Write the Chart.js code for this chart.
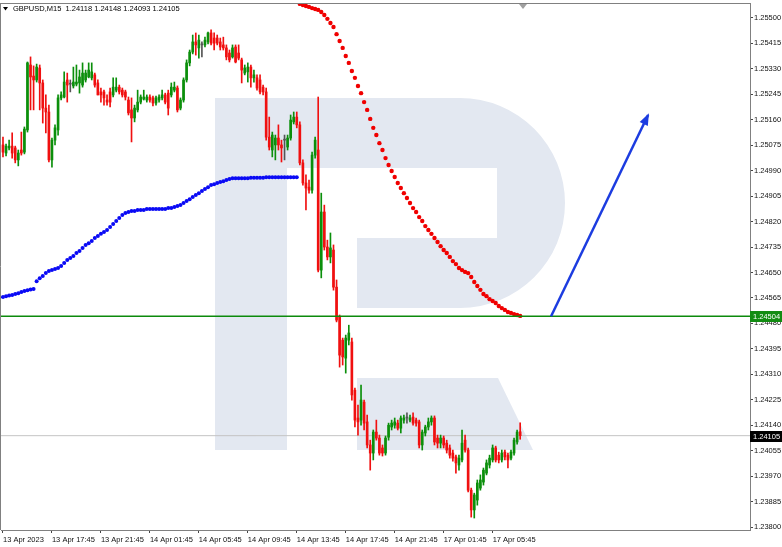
<!DOCTYPE html>
<html>
<head>
<meta charset="utf-8">
<script src="https://cdn.jsdelivr.net/npm/chart.js@4.4.0/dist/chart.umd.min.js"></script>
<style>
  html, body { margin: 0; padding: 0; background: #fff; }
  #wrap { position: relative; width: 782px; height: 547px; }
</style>
</head>
<body>
<div id="wrap"><canvas id="chart" width="782" height="547"></canvas></div>
<script>
// GBPUSD M15 bars, one row per bar: open, high, low, close
const ohlc = [
  [1.25076,1.25102,1.25036,1.25052],[1.25049,1.25079,1.25039,1.25072],[1.25066,1.25092,1.25059,1.25072],[1.25072,1.25116,1.25032,1.25049],[1.25066,1.25072,1.25016,1.25026],
  [1.25026,1.25059,1.25006,1.25049],[1.25059,1.25119,1.25042,1.25049],[1.25052,1.25136,1.25046,1.25129],[1.25126,1.25353,1.25119,1.25350],[1.25343,1.25370,1.25193,1.25303],
  [1.25306,1.25340,1.25193,1.25293],[1.25293,1.25346,1.25286,1.25336],[1.25333,1.25343,1.25193,1.25283],[1.25283,1.25293,1.25149,1.25199],[1.25199,1.25243,1.25116,1.25186],
  [1.25186,1.25209,1.25019,1.25026],[1.25026,1.25099,1.25002,1.25092],[1.25092,1.25143,1.25076,1.25133],[1.25126,1.25243,1.25109,1.25233],[1.25233,1.25253,1.25226,1.25243],
  [1.25236,1.25320,1.25233,1.25286],[1.25293,1.25316,1.25219,1.25276],[1.25279,1.25293,1.25253,1.25279],[1.25273,1.25336,1.25266,1.25286],[1.25279,1.25343,1.25273,1.25286],
  [1.25283,1.25326,1.25249,1.25303],[1.25276,1.25350,1.25269,1.25316],[1.25293,1.25326,1.25286,1.25316],[1.25303,1.25350,1.25300,1.25326],[1.25300,1.25350,1.25293,1.25320],
  [1.25310,1.25316,1.25269,1.25276],[1.25283,1.25293,1.25243,1.25243],[1.25253,1.25266,1.25219,1.25243],[1.25253,1.25259,1.25209,1.25233],[1.25226,1.25243,1.25209,1.25219],
  [1.25253,1.25266,1.25203,1.25219],[1.25243,1.25300,1.25236,1.25269],[1.25259,1.25300,1.25253,1.25269],[1.25269,1.25276,1.25246,1.25253],[1.25259,1.25266,1.25236,1.25243],
  [1.25253,1.25259,1.25226,1.25236],[1.25226,1.25236,1.25176,1.25183],[1.25193,1.25233,1.25086,1.25166],[1.25166,1.25209,1.25153,1.25199],[1.25193,1.25259,1.25186,1.25219],
  [1.25219,1.25243,1.25213,1.25236],[1.25229,1.25259,1.25226,1.25236],[1.25226,1.25243,1.25219,1.25236],[1.25236,1.25243,1.25219,1.25226],[1.25233,1.25239,1.25206,1.25216],
  [1.25216,1.25239,1.25209,1.25233],[1.25226,1.25243,1.25219,1.25236],[1.25233,1.25259,1.25226,1.25243],[1.25243,1.25249,1.25213,1.25219],[1.25249,1.25259,1.25176,1.25199],
  [1.25243,1.25283,1.25236,1.25269],[1.25259,1.25286,1.25253,1.25269],[1.25266,1.25273,1.25186,1.25193],[1.25199,1.25233,1.25193,1.25226],[1.25226,1.25300,1.25219,1.25293],
  [1.25293,1.25360,1.25286,1.25350],[1.25350,1.25393,1.25340,1.25386],[1.25386,1.25443,1.25380,1.25420],[1.25420,1.25450,1.25376,1.25410],[1.25400,1.25443,1.25366,1.25426],
  [1.25410,1.25420,1.25370,1.25410],[1.25410,1.25436,1.25403,1.25426],[1.25420,1.25453,1.25413,1.25450],[1.25450,1.25460,1.25410,1.25416],[1.25433,1.25450,1.25393,1.25416],
  [1.25433,1.25443,1.25410,1.25416],[1.25420,1.25433,1.25393,1.25403],[1.25410,1.25436,1.25393,1.25400],[1.25400,1.25410,1.25360,1.25370],[1.25383,1.25393,1.25353,1.25360],
  [1.25370,1.25410,1.25366,1.25400],[1.25403,1.25410,1.25350,1.25353],[1.25383,1.25410,1.25360,1.25366],[1.25360,1.25366,1.25283,1.25326],[1.25316,1.25343,1.25310,1.25333],
  [1.25320,1.25350,1.25286,1.25336],[1.25336,1.25343,1.25269,1.25300],[1.25300,1.25326,1.25286,1.25310],[1.25300,1.25310,1.25259,1.25266],[1.25293,1.25310,1.25246,1.25253],
  [1.25269,1.25276,1.25243,1.25253],[1.25253,1.25266,1.25092,1.25102],[1.25102,1.25169,1.25059,1.25069],[1.25059,1.25119,1.25036,1.25109],[1.25076,1.25109,1.25026,1.25099],
  [1.25099,1.25143,1.25059,1.25076],[1.25076,1.25092,1.25019,1.25066],[1.25092,1.25109,1.25026,1.25092],[1.25069,1.25109,1.25059,1.25099],[1.25099,1.25176,1.25092,1.25159],
  [1.25153,1.25186,1.25146,1.25169],[1.25169,1.25186,1.25133,1.25143],[1.25143,1.25153,1.25009,1.25016],[1.25016,1.25026,1.24942,1.24949],[1.24949,1.24976,1.24859,1.24932],
  [1.24935,1.24959,1.24915,1.24925],[1.24925,1.25052,1.24915,1.25042],[1.25042,1.25102,1.25032,1.25092],[1.25059,1.25236,1.24652,1.24658],[1.24658,1.24915,1.24632,1.24852],
  [1.24852,1.24875,1.24725,1.24735],[1.24735,1.24758,1.24692,1.24702],[1.24702,1.24782,1.24682,1.24732],[1.24725,1.24742,1.24591,1.24601],[1.24601,1.24625,1.24485,1.24491],
  [1.24501,1.24508,1.24334,1.24374],[1.24424,1.24431,1.24341,1.24368],[1.24364,1.24441,1.24314,1.24431],[1.24424,1.24474,1.24408,1.24448],[1.24418,1.24431,1.24224,1.24241],
  [1.24257,1.24264,1.24134,1.24157],[1.24164,1.24207,1.24107,1.24151],[1.24157,1.24274,1.24140,1.24224],[1.24217,1.24224,1.24124,1.24147],[1.24151,1.24174,1.24064,1.24074],
  [1.24074,1.24090,1.23990,1.24047],[1.24047,1.24124,1.24024,1.24117],[1.24117,1.24157,1.24090,1.24097],[1.24097,1.24107,1.24040,1.24047],[1.24064,1.24074,1.24037,1.24047],
  [1.24047,1.24104,1.24040,1.24097],[1.24100,1.24147,1.24090,1.24140],[1.24134,1.24157,1.24124,1.24147],[1.24140,1.24164,1.24130,1.24151],[1.24147,1.24157,1.24124,1.24130],
  [1.24130,1.24171,1.24114,1.24164],[1.24157,1.24174,1.24147,1.24164],[1.24164,1.24181,1.24147,1.24164],[1.24157,1.24174,1.24151,1.24164],[1.24167,1.24181,1.24140,1.24147],
  [1.24157,1.24164,1.24137,1.24147],[1.24151,1.24157,1.24064,1.24074],[1.24074,1.24124,1.24057,1.24117],[1.24114,1.24140,1.24104,1.24134],[1.24134,1.24164,1.24124,1.24151],
  [1.24151,1.24171,1.24140,1.24164],[1.24164,1.24171,1.24074,1.24084],[1.24097,1.24107,1.24064,1.24080],[1.24080,1.24107,1.24064,1.24097],[1.24097,1.24104,1.24064,1.24074],
  [1.24080,1.24090,1.24047,1.24057],[1.24064,1.24074,1.24030,1.24040],[1.24047,1.24057,1.24020,1.24030],[1.24034,1.24040,1.23980,1.24014],[1.24007,1.24040,1.23990,1.24030],
  [1.24024,1.24124,1.24017,1.24080],[1.24090,1.24107,1.24050,1.24057],[1.24057,1.24064,1.23917,1.23923],[1.23923,1.23930,1.23833,1.23857],[1.23857,1.23913,1.23830,1.23907],
  [1.23890,1.23957,1.23873,1.23947],[1.23930,1.23974,1.23923,1.23957],[1.23950,1.23997,1.23940,1.23990],[1.23980,1.24024,1.23974,1.24014],[1.24007,1.24040,1.23997,1.24030],
  [1.24024,1.24074,1.24017,1.24064],[1.24064,1.24070,1.24017,1.24024],[1.24040,1.24050,1.24014,1.24024],[1.24024,1.24057,1.24017,1.24047],[1.24050,1.24057,1.24024,1.24034],
  [1.24040,1.24047,1.23997,1.24024],[1.24030,1.24057,1.24024,1.24050],[1.24047,1.24097,1.24040,1.24090],[1.24084,1.24124,1.24077,1.24117],[1.24118,1.24148,1.24093,1.24105]
];

// blue dotted moving average, from bar 0
const blueMA = [
  1.24568,1.24571,1.24573,1.24575,1.24578,1.24581,1.24585,1.24588,1.24591,1.24593,
  1.24595,1.24621,1.24631,1.24638,1.24648,1.24655,1.24658,1.24662,1.24665,1.24672,
  1.24682,1.24692,1.24698,1.24705,1.24715,1.24722,1.24732,1.24742,1.24748,1.24755,
  1.24765,1.24772,1.24779,1.24785,1.24792,1.24802,1.24812,1.24822,1.24832,1.24842,
  1.24849,1.24852,1.24855,1.24855,1.24859,1.24859,1.24859,1.24862,1.24862,1.24862,
  1.24862,1.24862,1.24862,1.24862,1.24865,1.24865,1.24869,1.24872,1.24875,1.24882,
  1.24889,1.24895,1.24902,1.24909,1.24915,1.24922,1.24929,1.24935,1.24942,1.24945,
  1.24949,1.24952,1.24955,1.24959,1.24962,1.24965,1.24965,1.24965,1.24965,1.24965,
  1.24965,1.24966,1.24966,1.24966,1.24966,1.24966,1.24968,1.24968,1.24968,1.24968,
  1.24968,1.24968,1.24968,1.24968,1.24968,1.24968,1.24968
];

// red dotted moving average, starts at bar 97
const redMAStart = 97;
const redMA = [
  1.25547,1.25543,1.25540,1.25537,1.25533,1.25530,1.25527,1.25520,1.25510,1.25497,
  1.25483,1.25470,1.25446,1.25423,1.25400,1.25373,1.25350,1.25323,1.25300,1.25273,
  1.25249,1.25219,1.25193,1.25163,1.25133,1.25109,1.25082,1.25059,1.25032,1.25009,
  1.24989,1.24969,1.24949,1.24932,1.24915,1.24899,1.24882,1.24865,1.24852,1.24835,
  1.24822,1.24805,1.24792,1.24779,1.24765,1.24752,1.24738,1.24725,1.24715,1.24702,
  1.24688,1.24678,1.24665,1.24658,1.24652,1.24648,1.24635,1.24618,1.24605,1.24592,
  1.24578,1.24571,1.24561,1.24555,1.24548,1.24538,1.24531,1.24525,1.24518,1.24515,
  1.24511,1.24508,1.24505
];

const levelPrice = 1.24504;   // green horizontal level
const bidPrice = 1.24105;     // last close
const arrowFrom = [179.1, 1.24504];
const arrowTo = [210.8, 1.25176];

const xTickBars = [0, 16, 32, 48, 64, 80, 96, 112, 128, 144, 160];
const xTickLabels = ["13 Apr 2023", "13 Apr 17:45", "13 Apr 21:45", "14 Apr 01:45", "14 Apr 05:45",
  "14 Apr 09:45", "14 Apr 13:45", "14 Apr 17:45", "14 Apr 21:45", "17 Apr 01:45", "17 Apr 05:45"];
const yTicks = [1.25500, 1.25415, 1.25330, 1.25245, 1.25160, 1.25075, 1.24990, 1.24905, 1.24820,
  1.24735, 1.24650, 1.24565, 1.24480, 1.24395, 1.24310, 1.24225, 1.24140, 1.24055, 1.23970,
  1.23885, 1.23800];
const headerText = "GBPUSD,M15  1.24118 1.24148 1.24093 1.24105";

const BULL = "#0b8f0b";
const BEAR = "#f01010";
const DOJI = "#555555";
const ARROW = "#1c3ce0";
const FONT = "'Liberation Sans', Arial, sans-serif";

const candleColors = ohlc.map(([o, h, l, c]) => (c > o ? BULL : c < o ? BEAR : DOJI));

// светлый логотип на фоне
const watermark = {
  id: "watermark",
  beforeDatasetsDraw(chart) {
    const c = chart.ctx;
    c.save();
    c.fillStyle = "#e3e8f1";
    c.fillRect(215, 98, 72, 352);
    c.beginPath();
    c.moveTo(287, 98);
    c.lineTo(460, 98);
    c.arc(460, 203, 105, -Math.PI / 2, Math.PI / 2);
    c.lineTo(357, 308);
    c.lineTo(357, 238);
    c.lineTo(497, 238);
    c.lineTo(497, 168);
    c.lineTo(287, 168);
    c.closePath();
    c.fill();
    c.beginPath();
    c.moveTo(357, 378);
    c.lineTo(498, 378);
    c.lineTo(533, 450);
    c.lineTo(357, 450);
    c.closePath();
    c.fill();
    c.restore();
  },
};

function priceBox(c, y, price, bg) {
  c.fillStyle = bg;
  c.fillRect(750, Math.round(y) - 5, 32, 11);
  c.fillStyle = "#fff";
  c.font = "7.5px " + FONT;
  c.textBaseline = "middle";
  c.textAlign = "left";
  c.fillText(price.toFixed(5), 753, Math.round(y) + 0.5);
}

// убираем отступы, которые Chart.js добавляет под подписи
function noPadding(s) {
  s.paddingLeft = 0;
  s.paddingRight = 0;
  s.paddingTop = 0;
  s.paddingBottom = 0;
}

const overlay = {
  id: "overlay",
  afterDraw(chart) {
    const c = chart.ctx;
    const area = chart.chartArea;
    const ys = chart.scales.y;
    c.save();
    // frame
    c.strokeStyle = "#808080";
    c.lineWidth = 1;
    c.beginPath();
    c.moveTo(0, area.top + 0.5);
    c.lineTo(area.right, area.top + 0.5);
    c.moveTo(area.left - 0.5, area.top);
    c.lineTo(area.left - 0.5, area.bottom);
    c.stroke();

    // arrow head
    const meta = chart.getDatasetMeta(6);
    const p0 = meta.data[0], p1 = meta.data[1];
    const ang = Math.atan2(p1.y - p0.y, p1.x - p0.x);
    c.fillStyle = ARROW;
    c.beginPath();
    c.moveTo(p1.x + 2 * Math.cos(ang), p1.y + 2 * Math.sin(ang));
    c.lineTo(p1.x - 10 * Math.cos(ang) + 4.5 * Math.sin(ang), p1.y - 10 * Math.sin(ang) - 4.5 * Math.cos(ang));
    c.lineTo(p1.x - 10 * Math.cos(ang) - 4.5 * Math.sin(ang), p1.y - 10 * Math.sin(ang) + 4.5 * Math.cos(ang));
    c.closePath();
    c.fill();

    // header
    c.fillStyle = "#000";
    c.beginPath();
    c.moveTo(3, 7);
    c.lineTo(8, 7);
    c.lineTo(5.5, 10.5);
    c.closePath();
    c.fill();
    c.font = "7.5px " + FONT;
    c.textBaseline = "middle";
    c.textAlign = "left";
    c.fillText(headerText, 13, 9);

    // shift marker
    c.fillStyle = "#a0a0a0";
    c.beginPath();
    c.moveTo(519, area.top + 1);
    c.lineTo(527, area.top + 1);
    c.lineTo(523, area.top + 6);
    c.closePath();
    c.fill();

    priceBox(c, ys.getPixelForValue(levelPrice), levelPrice, "#128c12");
    priceBox(c, ys.getPixelForValue(bidPrice), bidPrice, "#000");
    c.restore();
  },
};

new Chart(document.getElementById("chart"), {
  type: "bar",
  data: {
    datasets: [
      {
        type: "line",
        label: "bid",
        data: [{ x: -5, y: bidPrice }, { x: 260, y: bidPrice }],
        borderColor: "#c4c4c4",
        borderWidth: 1,
        pointRadius: 0,
        order: 9,
      },
      {
        label: "wicks",
        data: ohlc.map((d, i) => ({ x: i, y: [d[2], d[1]] })),
        backgroundColor: candleColors,
        barThickness: 1,
        grouped: false,
        order: 5,
      },
      {
        label: "bodies",
        data: ohlc.map((d, i) => ({ x: i, y: [d[0], d[3]] })),
        backgroundColor: candleColors,
        barThickness: 2,
        grouped: false,
        minBarLength: 1,
        order: 4,
      },
      {
        type: "line",
        label: "MA blue",
        data: blueMA.map((v, i) => ({ x: i, y: v })),
        showLine: false,
        pointRadius: 2,
        pointBackgroundColor: "#0a0af5",
        pointBorderWidth: 0,
        order: 3,
      },
      {
        type: "line",
        label: "MA red",
        data: redMA.map((v, k) => ({ x: redMAStart + k, y: v })),
        showLine: false,
        pointRadius: 2.2,
        pointBackgroundColor: "#f00000",
        pointBorderWidth: 0,
        order: 3,
      },
      {
        type: "line",
        label: "level",
        data: [{ x: -5, y: levelPrice }, { x: 260, y: levelPrice }],
        borderColor: "#0c8a0c",
        borderWidth: 1.6,
        pointRadius: 0,
        order: 1,
      },
      {
        type: "line",
        label: "arrow",
        data: [{ x: arrowFrom[0], y: arrowFrom[1] }, { x: arrowTo[0], y: arrowTo[1] }],
        borderColor: ARROW,
        borderWidth: 2.5,
        pointRadius: 0,
        order: 0,
      },
    ],
  },
  options: {
    responsive: false,
    animation: false,
    devicePixelRatio: 1,
    events: [],
    layout: { autoPadding: false, padding: { left: 1, top: 3, right: 0, bottom: 0 } },
    plugins: { legend: { display: false }, tooltip: { enabled: false } },
    scales: {
      x: {
        type: "linear",
        position: "bottom",
        min: -0.65,
        max: 244.1,
        offset: false,
        bounds: "data",
        afterBuildTicks: (s) => { s.ticks = xTickBars.map((v) => ({ value: v })); },
        afterFit: (s) => { s.height = 17; noPadding(s); },
        ticks: {
          callback: (v, i) => xTickLabels[i],
          align: "start",
          autoSkip: false,
          maxRotation: 0,
          padding: 2,
          color: "#111",
          font: { family: FONT, size: 7.5 },
        },
        grid: { drawOnChartArea: false, drawTicks: true, tickLength: 3, color: "#444", offset: false },
        border: { display: true, color: "#808080" },
      },
      y: {
        position: "right",
        min: 1.2379,
        max: 1.2555,
        bounds: "data",
        afterBuildTicks: (s) => { s.ticks = yTicks.map((v) => ({ value: v })); },
        afterFit: (s) => { s.width = 32; noPadding(s); },
        ticks: {
          callback: (v) => v.toFixed(5),
          padding: 1,
          color: "#111",
          font: { family: FONT, size: 7.5 },
        },
        grid: { drawOnChartArea: false, drawTicks: true, tickLength: 3, color: "#444" },
        border: { display: true, color: "#808080" },
      },
    },
  },
  plugins: [watermark, overlay],
});
</script>
</body>
</html>
